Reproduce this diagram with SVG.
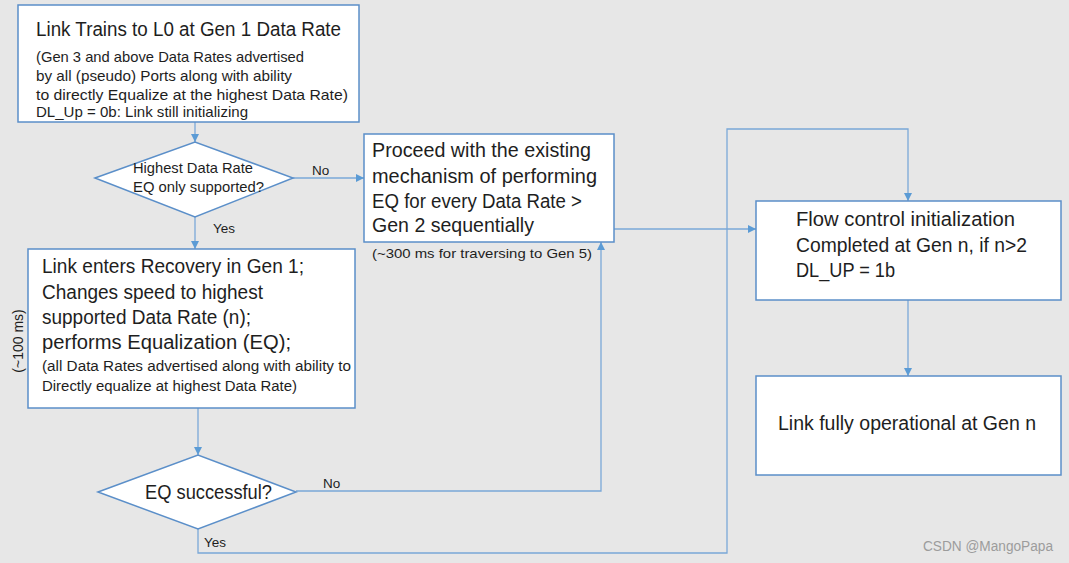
<svg xmlns="http://www.w3.org/2000/svg" width="1069" height="563" viewBox="0 0 1069 563">
<defs>
<marker id="ah" viewBox="0 0 8 8" refX="8" refY="4" markerWidth="8" markerHeight="8" markerUnits="userSpaceOnUse" orient="auto">
<path d="M0,0 L8,4 L0,8 z" fill="#5b9bd5"/>
</marker>
<style>
.box{fill:#ffffff;stroke:#5b8fc9;stroke-width:1.5}
.con{fill:none;stroke:#7aa8d8;stroke-width:1.3}
.t{font-family:"Liberation Sans",Arial,sans-serif;fill:#1e1e1e}
.big{font-size:19.5px}
.sm{font-size:14.5px}
.lbl{font-family:"Liberation Sans",Arial,sans-serif;fill:#1e1e1e;font-size:13.5px}
</style>
</defs>
<rect x="0" y="0" width="1069" height="563" fill="#e7e7e7"/>

<g id="connectors">
<line class="con" x1="195" y1="122" x2="195" y2="142" marker-end="url(#ah)"/>
<line class="con" x1="293" y1="178" x2="364" y2="178" marker-end="url(#ah)"/>
<line class="con" x1="195" y1="217" x2="195" y2="249" marker-end="url(#ah)"/>
<line class="con" x1="614" y1="229" x2="756" y2="229" marker-end="url(#ah)"/>
<line class="con" x1="198" y1="408" x2="198" y2="455" marker-end="url(#ah)"/>
<polyline class="con" points="296,491 601,491 601,242" marker-end="url(#ah)"/>
<polyline class="con" points="198,529 198,553 727,553 727,129 908,129 908,201" marker-end="url(#ah)"/>
<line class="con" x1="908" y1="300" x2="908" y2="376" marker-end="url(#ah)"/>
<text class="lbl" x="312" y="175">No</text>
<text class="lbl" x="213" y="233">Yes</text>
<text class="lbl" x="323" y="488">No</text>
<text class="lbl" x="204" y="547">Yes</text>
</g>

<g id="n1">
<rect class="box" x="18" y="5" width="341" height="117"/>
<text class="t" x="36" y="36" font-size="19.5" textLength="305" lengthAdjust="spacingAndGlyphs">Link Trains to L0 at Gen 1 Data Rate</text>
<text class="t sm" x="36" y="62" textLength="268" lengthAdjust="spacingAndGlyphs">(Gen 3 and above Data Rates advertised</text>
<text class="t sm" x="36" y="81" textLength="256" lengthAdjust="spacingAndGlyphs">by all (pseudo) Ports along with ability</text>
<text class="t sm" x="36" y="100" textLength="312" lengthAdjust="spacingAndGlyphs">to directly Equalize at the highest Data Rate)</text>
<text class="t sm" x="36" y="117" textLength="212" lengthAdjust="spacingAndGlyphs">DL_Up = 0b: Link still initializing</text>
</g>

<g id="n2">
<polygon class="box" points="95,178 195,142 293,178 195,217"/>
<text class="t sm" x="133" y="173" textLength="120" lengthAdjust="spacingAndGlyphs">Highest Data Rate</text>
<text class="t sm" x="133" y="192" textLength="131" lengthAdjust="spacingAndGlyphs">EQ only supported?</text>
</g>

<g id="n3">
<rect class="box" x="364" y="134" width="250" height="108"/>
<text class="t big" x="372" y="157" textLength="219" lengthAdjust="spacingAndGlyphs">Proceed with the existing</text>
<text class="t big" x="372" y="183" textLength="225" lengthAdjust="spacingAndGlyphs">mechanism of performing</text>
<text class="t big" x="372" y="208" textLength="210" lengthAdjust="spacingAndGlyphs">EQ for every Data Rate &gt;</text>
<text class="t big" x="372" y="232" textLength="162" lengthAdjust="spacingAndGlyphs">Gen 2 sequentially</text>
<text class="t" x="372" y="258" font-size="13.5" textLength="220" lengthAdjust="spacingAndGlyphs">(~300 ms for traversing to Gen 5)</text>
</g>

<g id="n4">
<rect class="box" x="28" y="249" width="327" height="159"/>
<text class="t big" x="42" y="273" textLength="262" lengthAdjust="spacingAndGlyphs">Link enters Recovery in Gen 1;</text>
<text class="t big" x="42" y="299" textLength="221" lengthAdjust="spacingAndGlyphs">Changes speed to highest</text>
<text class="t big" x="42" y="324" textLength="209" lengthAdjust="spacingAndGlyphs">supported Data Rate (n);</text>
<text class="t big" x="42" y="349" textLength="249" lengthAdjust="spacingAndGlyphs">performs Equalization (EQ);</text>
<text class="t" x="42" y="371" font-size="14" textLength="309" lengthAdjust="spacingAndGlyphs">(all Data Rates advertised along with ability to</text>
<text class="t" x="42" y="391" font-size="14" textLength="255" lengthAdjust="spacingAndGlyphs">Directly equalize at highest Data Rate)</text>
<text class="t" x="0" y="0" font-size="14" text-anchor="middle" transform="translate(23,341) rotate(-90)">(~100 ms)</text>
</g>

<g id="n5">
<polygon class="box" points="98,492 198,455 296,492 198,529"/>
<text class="t" x="145" y="499" font-size="19.5" textLength="127" lengthAdjust="spacingAndGlyphs">EQ successful?</text>
</g>

<g id="n6">
<rect class="box" x="756" y="201" width="305" height="99"/>
<text class="t big" x="796" y="226" textLength="219" lengthAdjust="spacingAndGlyphs">Flow control initialization</text>
<text class="t big" x="796" y="252" textLength="231" lengthAdjust="spacingAndGlyphs">Completed at Gen n, if n&gt;2</text>
<text class="t big" x="796" y="277" textLength="99" lengthAdjust="spacingAndGlyphs">DL_UP = 1b</text>
</g>

<g id="n7">
<rect class="box" x="756" y="376" width="305" height="99"/>
<text class="t big" x="778" y="430" textLength="258" lengthAdjust="spacingAndGlyphs">Link fully operational at Gen n</text>
</g>

<text x="923" y="551" font-family="Liberation Sans,Arial,sans-serif" font-size="14" fill="#9c9c9c" textLength="130" lengthAdjust="spacingAndGlyphs">CSDN @MangoPapa</text>
</svg>
